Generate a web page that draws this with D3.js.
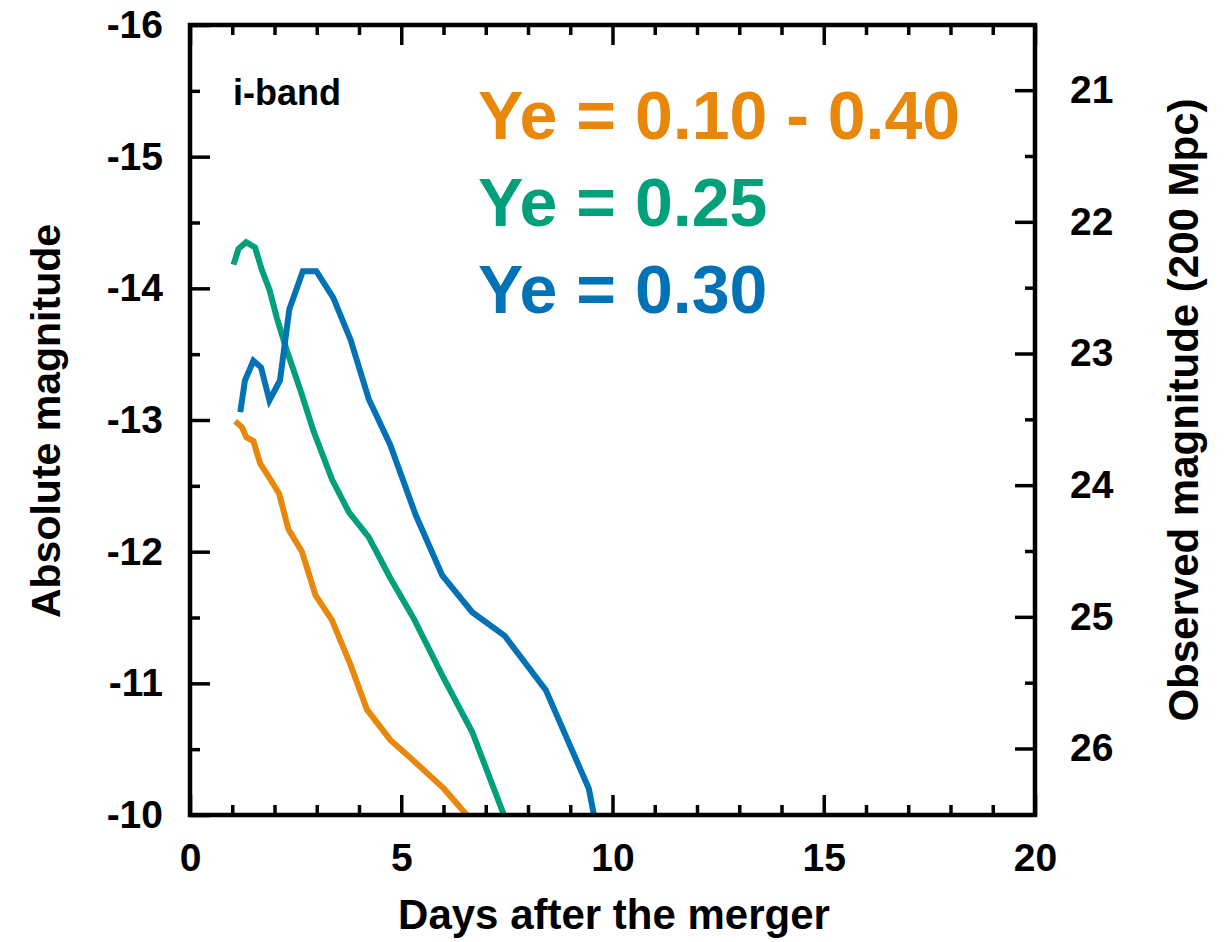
<!DOCTYPE html>
<html>
<head>
<meta charset="utf-8">
<script src="https://cdn.jsdelivr.net/npm/d3@7"></script>
<style>
  html, body { margin: 0; padding: 0; background: #fff; }
  text { font-family: "Liberation Sans", Arial, Helvetica, sans-serif; font-weight: bold; }
</style>
</head>
<body>
<svg id="chart" width="1228" height="942"></svg>
<script>
// i-band light curves
const orangeDays = [1.07, 1.23, 1.33, 1.50, 1.66, 1.90, 2.11, 2.33, 2.65, 2.97, 3.36, 3.80, 4.19, 4.74, 5.30, 6.01, 6.55];
const orangeMag  = [-12.99, -12.945, -12.87, -12.84, -12.67, -12.55, -12.44, -12.17, -12.0, -11.67, -11.48, -11.14, -10.80, -10.57, -10.41, -10.20, -10.0];

const greenDays = [1.03, 1.15, 1.33, 1.54, 1.70, 1.88, 2.06, 2.29, 2.61, 2.93, 3.36, 3.76, 4.23, 4.74, 5.30, 5.97, 6.68, 7.43];
const greenMag  = [-14.18, -14.30, -14.35, -14.31, -14.14, -13.99, -13.77, -13.53, -13.23, -12.91, -12.55, -12.30, -12.11, -11.80, -11.49, -11.06, -10.63, -10.0];

const blueDays = [1.19, 1.30, 1.50, 1.68, 1.88, 2.13, 2.35, 2.67, 2.99, 3.39, 3.80, 4.23, 4.74, 5.34, 5.97, 6.68, 7.45, 8.42, 9.44, 9.56];
const blueMag  = [-13.06, -13.30, -13.45, -13.40, -13.15, -13.30, -13.84, -14.13, -14.13, -13.93, -13.61, -13.16, -12.81, -12.28, -11.82, -11.54, -11.36, -10.95, -10.20, -10.0];

const seriesNames = ['Ye = 0.10 - 0.40', 'Ye = 0.25', 'Ye = 0.30'];
const seriesColors = ['#E8870A', '#00A07A', '#0072B5'];

const xTicks = [0, 5, 10, 15, 20];
const yTicks = [-16, -15, -14, -13, -12, -11, -10];
const obsTicks = [21, 22, 23, 24, 25, 26];
const distModulus = 36.505; // 200 Mpc

const svg = d3.select('#chart');
const plotLeft = 190, plotRight = 1035, plotTop = 25, plotBottom = 815;

const x = d3.scaleLinear().domain([0, 20]).range([plotLeft, plotRight]);
const y = d3.scaleLinear().domain([-16, -10]).range([plotTop, plotBottom]);
const yObs = d3.scaleLinear().domain([-16 + distModulus, -10 + distModulus]).range([plotTop, plotBottom]);

// minor ticks
const xMinor = d3.range(0, 21, 1).filter(d => d % 5 !== 0);
const yMinor = d3.range(-15.5, -10, 1);
const obsMinor = d3.range(20.5, 27, 1);

// plain hyphen for negatives, like the original
const plain = d => String(d);

function styleAxis(g) {
  g.select('.domain').remove();
  g.selectAll('line').attr('stroke', '#000').attr('stroke-width', 3.5);
  g.selectAll('text').attr('fill', '#000').style('font-size', '39px').style('font-weight', 'bold')
    .style('font-family', '"Liberation Sans", Arial, sans-serif');
}

// bottom
svg.append('g').attr('transform', `translate(0,${plotBottom})`)
  .call(d3.axisBottom(x).tickValues(xTicks).tickSize(-20).tickPadding(28).tickFormat(plain))
  .call(styleAxis);
svg.append('g').attr('transform', `translate(0,${plotBottom})`)
  .call(d3.axisBottom(x).tickValues(xMinor).tickSize(-10).tickFormat(''))
  .call(styleAxis);
// top
svg.append('g').attr('transform', `translate(0,${plotTop})`)
  .call(d3.axisTop(x).tickValues(xTicks).tickSize(-20).tickFormat(''))
  .call(styleAxis);
svg.append('g').attr('transform', `translate(0,${plotTop})`)
  .call(d3.axisTop(x).tickValues(xMinor).tickSize(-10).tickFormat(''))
  .call(styleAxis);
// left
svg.append('g').attr('transform', `translate(${plotLeft},0)`)
  .call(d3.axisLeft(y).tickValues(yTicks).tickSize(-20).tickPadding(27).tickFormat(plain))
  .call(styleAxis);
svg.append('g').attr('transform', `translate(${plotLeft},0)`)
  .call(d3.axisLeft(y).tickValues(yMinor).tickSize(-10).tickFormat(''))
  .call(styleAxis);
// right (observed magnitude)
svg.append('g').attr('transform', `translate(${plotRight},0)`)
  .call(d3.axisRight(yObs).tickValues(obsTicks).tickSize(-20).tickPadding(35).tickFormat(plain))
  .call(styleAxis);
svg.append('g').attr('transform', `translate(${plotRight},0)`)
  .call(d3.axisRight(yObs).tickValues(obsMinor).tickSize(-10).tickFormat(''))
  .call(styleAxis);

// curves
svg.append('clipPath').attr('id', 'plot-clip')
  .append('rect').attr('x', plotLeft).attr('y', plotTop)
  .attr('width', plotRight - plotLeft).attr('height', plotBottom - plotTop);

const line = d3.line().x(d => x(d[0])).y(d => y(d[1]));
const series = [
  d3.zip(orangeDays, orangeMag),
  d3.zip(greenDays, greenMag),
  d3.zip(blueDays, blueMag)
];
svg.append('g').attr('clip-path', 'url(#plot-clip)')
  .selectAll('path')
  .data(series)
  .join('path')
  .attr('d', line)
  .attr('fill', 'none')
  .attr('stroke', (d, i) => seriesColors[i])
  .attr('stroke-width', 6)
  .attr('stroke-linejoin', 'miter');

// frame
svg.append('rect')
  .attr('x', plotLeft).attr('y', plotTop)
  .attr('width', plotRight - plotLeft).attr('height', plotBottom - plotTop)
  .attr('fill', 'none').attr('stroke', '#000').attr('stroke-width', 4.5);

// labels
svg.append('text').attr('x', 233).attr('y', 105)
  .style('font-size', '36px').text('i-band');

svg.selectAll('.legend-text')
  .data(seriesNames)
  .join('text')
  .attr('class', 'legend-text')
  .attr('x', 478)
  .attr('y', (d, i) => 139 + i * 87)
  .attr('fill', (d, i) => seriesColors[i])
  .style('font-size', '68px')
  .text(d => d);

svg.append('text')
  .attr('x', 614).attr('y', 929)
  .attr('text-anchor', 'middle')
  .style('font-size', '42px')
  .text('Days after the merger');

svg.append('text')
  .attr('transform', 'translate(60,421) rotate(-90)')
  .attr('text-anchor', 'middle')
  .style('font-size', '41px')
  .text('Absolute magnitude');

svg.append('text')
  .attr('transform', 'translate(1198,410) rotate(-90)')
  .attr('text-anchor', 'middle')
  .style('font-size', '42px')
  .text('Observed magnitude (200 Mpc)');
</script>
</body>
</html>
